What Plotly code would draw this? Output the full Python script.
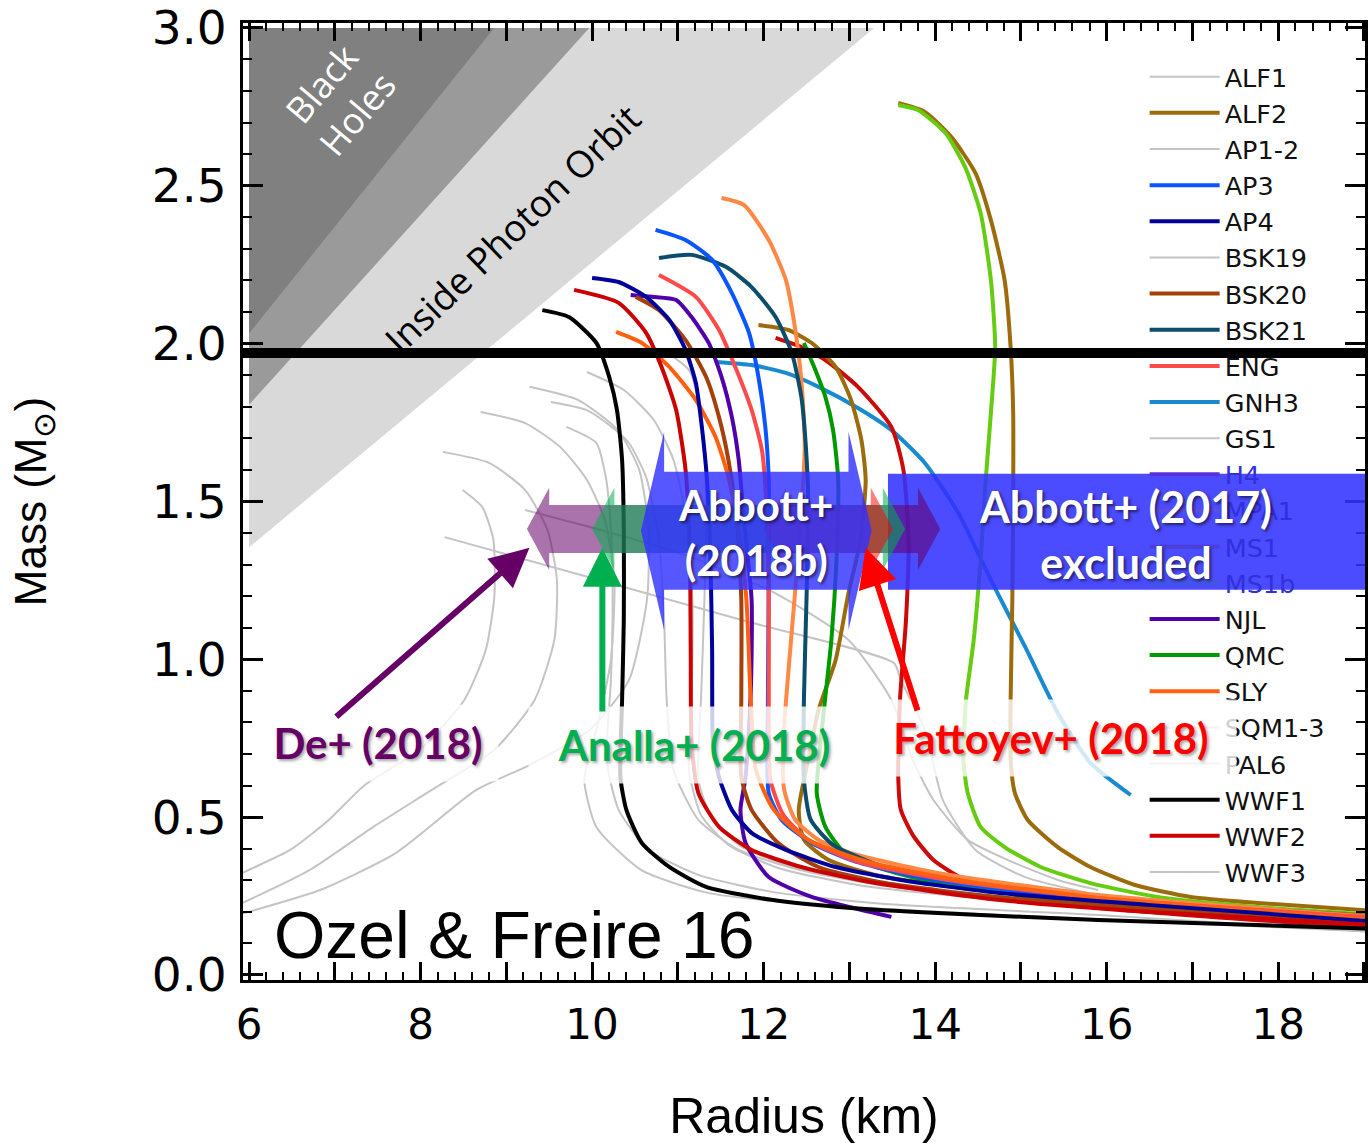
import plotly.graph_objects as go

# ---------------------------------------------------------------------------
# Neutron-star mass-radius relations (radius in km, mass in solar masses)
# ---------------------------------------------------------------------------
ALF1_R = [9.52, 9.93, 10.20, 10.43, 10.63, 10.78, 10.84, 10.87, 10.95, 11.24, 11.71, 12.41, 13.57, 15.90, 19.30]
ALF1_M = [1.815, 1.790, 1.742, 1.685, 1.577, 1.378, 1.124, 0.871, 0.649, 0.491, 0.396, 0.333, 0.276, 0.222, 0.149]

AP1_R = [9.70, 10.05, 10.16, 10.22, 10.24, 10.22, 10.17, 10.31, 10.66, 11.24, 12.17, 13.57, 15.90, 19.30]
AP1_M = [1.736, 1.685, 1.577, 1.410, 1.188, 0.934, 0.681, 0.523, 0.396, 0.317, 0.260, 0.222, 0.190, 0.133]
AP2_R = [10.87, 11.13, 11.24, 11.30, 11.33, 11.31, 11.27, 11.24, 11.38, 11.71, 12.29, 13.22, 14.73, 19.30]
AP2_M = [1.973, 1.916, 1.821, 1.695, 1.505, 1.188, 0.871, 0.618, 0.507, 0.412, 0.345, 0.295, 0.247, 0.155]

BSK19_R = [8.70, 9.22, 9.63, 9.94, 10.15, 10.26, 10.22, 10.08, 9.91, 10.05, 10.57, 11.35, 12.64, 14.73, 19.30]
BSK19_M = [1.783, 1.748, 1.672, 1.568, 1.441, 1.251, 0.998, 0.808, 0.618, 0.469, 0.333, 0.260, 0.222, 0.190, 0.135]

GS1_R = [9.22, 10.31, 11.24, 12.17, 12.99, 13.49, 13.74, 13.98, 14.38, 14.85, 15.43, 15.90]
GS1_M = [1.473, 1.394, 1.315, 1.204, 1.061, 0.871, 0.681, 0.554, 0.428, 0.364, 0.301, 0.269]

SQM1_R = [8.49, 8.72, 8.85, 8.86, 8.76, 8.51, 7.99, 7.35, 6.93, 6.48, 6.00, 5.90]
SQM1_M = [1.536, 1.482, 1.378, 1.197, 1.029, 0.871, 0.713, 0.602, 0.491, 0.396, 0.333, 0.320]
SQM2_R = [8.26, 8.80, 9.22, 9.48, 9.59, 9.56, 9.33, 8.86, 8.13, 7.45, 6.71, 6.00, 5.90]
SQM2_M = [1.657, 1.622, 1.536, 1.410, 1.251, 1.061, 0.871, 0.713, 0.586, 0.469, 0.333, 0.238, 0.226]
SQM3_R = [9.27, 9.84, 10.30, 10.55, 10.66, 10.64, 10.43, 9.97, 9.27, 8.65, 7.71, 6.83, 6.00, 5.90]
SQM3_M = [1.863, 1.821, 1.726, 1.600, 1.410, 1.188, 0.934, 0.776, 0.665, 0.586, 0.386, 0.269, 0.200, 0.192]

PAL6_R = [8.28, 10.08, 11.83, 13.52, 13.60, 13.88, 14.09, 14.47, 15.05, 15.78]
PAL6_M = [1.387, 1.251, 1.118, 0.988, 0.934, 0.776, 0.554, 0.396, 0.310, 0.260]

WWF3_R = [9.94, 10.37, 10.72, 10.95, 11.10, 11.17, 11.16, 11.13, 11.27, 11.59, 12.17, 13.10, 14.73, 19.30]
WWF3_M = [1.910, 1.853, 1.758, 1.631, 1.441, 1.188, 0.871, 0.649, 0.507, 0.412, 0.339, 0.285, 0.238, 0.148]

ALF2_R = [11.94, 12.29, 12.56, 12.84, 13.02, 13.14, 13.19, 13.13, 12.99, 12.84, 12.64, 12.52, 12.41, 12.47, 12.76, 13.34, 14.73, 19.30]
ALF2_M = [2.059, 2.043, 2.002, 1.926, 1.821, 1.695, 1.568, 1.378, 1.210, 0.998, 0.839, 0.681, 0.523, 0.428, 0.364, 0.314, 0.263, 0.185]

AP3_R = [10.74, 11.09, 11.40, 11.63, 11.83, 11.94, 12.02, 12.06, 12.06, 12.05, 12.06, 12.21, 12.56, 13.02, 13.80, 15.31, 17.06, 19.30]
AP3_M = [2.360, 2.328, 2.265, 2.160, 2.034, 1.894, 1.736, 1.568, 1.251, 0.871, 0.576, 0.491, 0.418, 0.364, 0.310, 0.253, 0.212, 0.155]

AP4_R = [10.00, 10.31, 10.63, 10.90, 11.09, 11.21, 11.28, 11.34, 11.38, 11.40, 11.41, 11.48, 11.63, 11.86, 12.26, 12.84, 13.60, 14.73, 16.48, 19.30]
AP4_M = [2.208, 2.195, 2.148, 2.075, 1.980, 1.875, 1.736, 1.568, 1.315, 1.029, 0.735, 0.627, 0.523, 0.450, 0.396, 0.342, 0.301, 0.260, 0.222, 0.165]

BSK20_R = [10.51, 10.78, 11.09, 11.33, 11.48, 11.59, 11.69, 11.74, 11.74, 11.74, 11.86, 12.17, 12.64, 13.42, 14.73, 17.06, 19.30]
BSK20_M = [2.148, 2.106, 2.011, 1.894, 1.767, 1.631, 1.441, 1.188, 0.871, 0.627, 0.523, 0.418, 0.342, 0.291, 0.247, 0.200, 0.153]

BSK21_R = [10.78, 11.16, 11.56, 11.86, 12.14, 12.33, 12.44, 12.49, 12.52, 12.50, 12.47, 12.47, 12.55, 12.81, 13.34, 14.15, 15.90, 19.30]
BSK21_M = [2.271, 2.281, 2.243, 2.179, 2.084, 1.970, 1.831, 1.685, 1.505, 1.188, 0.871, 0.618, 0.491, 0.412, 0.348, 0.301, 0.238, 0.160]

ENG_R = [10.78, 11.21, 11.48, 11.67, 11.86, 11.98, 12.03, 12.06, 12.06, 12.08, 12.23, 12.52, 13.10, 14.15, 15.90, 19.30]
ENG_M = [2.217, 2.148, 2.043, 1.926, 1.790, 1.663, 1.505, 1.188, 0.871, 0.618, 0.507, 0.428, 0.358, 0.301, 0.244, 0.178]

GNH3_R = [11.45, 11.86, 12.26, 12.64, 13.10, 13.49, 13.88, 14.27, 14.65, 15.05, 15.43, 15.81, 16.28]
GNH3_M = [1.942, 1.932, 1.907, 1.863, 1.796, 1.726, 1.622, 1.463, 1.251, 1.039, 0.830, 0.672, 0.570]

H4_R = [12.14, 12.44, 12.72, 13.10, 13.49, 13.63, 13.69, 13.66, 13.59, 13.57, 13.60, 13.74, 13.98, 14.35, 15.05, 16.21, 19.30]
H4_M = [2.018, 1.989, 1.948, 1.863, 1.736, 1.600, 1.378, 1.124, 0.871, 0.627, 0.523, 0.443, 0.364, 0.301, 0.247, 0.206, 0.145]

MPA1_R = [11.51, 11.77, 12.06, 12.26, 12.37, 12.44, 12.48, 12.41, 12.31, 12.23, 12.24, 12.37, 12.64, 13.02, 14.03, 15.90, 19.30]
MPA1_M = [2.461, 2.439, 2.328, 2.201, 2.043, 1.885, 1.672, 1.356, 1.029, 0.744, 0.586, 0.491, 0.428, 0.386, 0.323, 0.253, 0.180]

MS1_R = [13.57, 13.88, 14.19, 14.47, 14.65, 14.81, 14.88, 14.91, 14.91, 14.90, 14.88, 14.88, 14.93, 15.08, 15.43, 15.81, 16.33, 16.98, 17.76, 19.30]
MS1_M = [2.762, 2.734, 2.654, 2.540, 2.391, 2.201, 1.989, 1.780, 1.505, 1.188, 0.871, 0.681, 0.576, 0.491, 0.405, 0.342, 0.285, 0.247, 0.228, 0.200]

MS1B_R = [13.57, 13.80, 14.12, 14.35, 14.53, 14.65, 14.70, 14.65, 14.59, 14.53, 14.45, 14.36, 14.33, 14.38, 14.53, 14.81, 15.23, 15.81, 16.59, 17.76, 19.30]
MS1B_M = [2.756, 2.740, 2.667, 2.559, 2.414, 2.201, 1.989, 1.780, 1.568, 1.315, 1.061, 0.871, 0.681, 0.576, 0.469, 0.405, 0.342, 0.291, 0.247, 0.215, 0.187]

NJL_R = [10.45, 10.70, 10.98, 11.16, 11.36, 11.51, 11.63, 11.71, 11.77, 11.86, 11.85, 11.79, 11.73, 11.79, 12.06, 12.56, 13.05, 13.49]
NJL_M = [2.154, 2.148, 2.138, 2.084, 2.002, 1.894, 1.767, 1.631, 1.441, 1.188, 0.893, 0.627, 0.523, 0.418, 0.310, 0.247, 0.212, 0.184]

QMC_R = [12.47, 12.58, 12.72, 12.81, 12.87, 12.85, 12.79, 12.70, 12.62, 12.72, 12.95, 13.42, 14.03, 15.31, 17.06, 19.30]
QMC_M = [2.002, 1.932, 1.831, 1.726, 1.568, 1.315, 1.061, 0.830, 0.576, 0.469, 0.386, 0.333, 0.291, 0.244, 0.206, 0.165]

SLY_R = [10.28, 10.58, 10.90, 11.21, 11.44, 11.59, 11.71, 11.80, 11.85, 11.91, 12.12, 12.52, 13.22, 14.27, 15.90, 17.64, 19.30]
SLY_M = [2.037, 2.002, 1.926, 1.821, 1.704, 1.577, 1.410, 1.188, 0.871, 0.649, 0.523, 0.428, 0.358, 0.301, 0.244, 0.206, 0.170]

WWF1_R = [9.42, 9.73, 10.05, 10.20, 10.29, 10.35, 10.37, 10.37, 10.35, 10.33, 10.40, 10.58, 10.90, 11.33, 12.09, 13.02, 14.03, 15.90, 19.30]
WWF1_M = [2.106, 2.084, 2.002, 1.894, 1.790, 1.631, 1.410, 1.124, 0.871, 0.627, 0.523, 0.418, 0.342, 0.279, 0.238, 0.212, 0.196, 0.174, 0.145]

WWF2_R = [9.79, 10.31, 10.63, 10.81, 10.98, 11.09, 11.14, 11.15, 11.16, 11.24, 11.48, 11.86, 12.44, 13.22, 14.73, 16.48, 19.30]
WWF2_M = [2.170, 2.129, 2.034, 1.926, 1.790, 1.600, 1.346, 1.029, 0.744, 0.576, 0.469, 0.396, 0.342, 0.295, 0.238, 0.200, 0.155]

# Legend order of the equations of state
LEGEND_ORDER = ["ALF1", "ALF2", "AP1-2", "AP3", "AP4", "BSK19", "BSK20", "BSK21", "ENG",
                "GNH3", "GS1", "H4", "MPA1", "MS1", "MS1b", "NJL", "QMC", "SLY",
                "SQM1-3", "PAL6", "WWF1", "WWF2", "WWF3"]

# Maximum-mass pulsar constraint
PSR_MASS = 1.97

# GR limits (km per solar mass): Schwarzschild, Buchdahl, photon sphere
R_SCHW = 2.953
R_BUCHDAHL = 2.25 * 1.4766
R_PHOTON = 3.0 * 1.4766

# GW170817 radius constraints (km): name, lower, upper
CONSTRAINT_NAMES = ["De+ (2018)", "Analla+ (2018)", "Fattoyev+ (2018)", "Abbott+ (2018b)"]
CONSTRAINT_RMIN = [9.24, 10.00, 12.00, 10.57]
CONSTRAINT_RMAX = [14.06, 13.65, 13.51, 13.26]
ABBOTT17_RMIN = 13.45

# ---------------------------------------------------------------------------
GRAY = "#c4c4c4"

gray_curves = [
    ("ALF1", ALF1_R, ALF1_M, True),
    ("AP1-2", AP1_R, AP1_M, True),
    ("AP1-2", AP2_R, AP2_M, False),
    ("BSK19", BSK19_R, BSK19_M, True),
    ("GS1", GS1_R, GS1_M, True),
    ("SQM1-3", SQM1_R, SQM1_M, True),
    ("SQM1-3", SQM2_R, SQM2_M, False),
    ("SQM1-3", SQM3_R, SQM3_M, False),
    ("PAL6", PAL6_R, PAL6_M, True),
    ("WWF3", WWF3_R, WWF3_M, True),
]

colored_curves = [
    ("GNH3", GNH3_R, GNH3_M, "#1a8ad0"),
    ("MS1", MS1_R, MS1_M, "#9c6b0c"),
    ("MS1b", MS1B_R, MS1B_M, "#66cc11"),
    ("H4", H4_R, H4_M, "#cc0a0a"),
    ("ALF2", ALF2_R, ALF2_M, "#9c6b0c"),
    ("QMC", QMC_R, QMC_M, "#009a00"),
    ("MPA1", MPA1_R, MPA1_M, "#ff8844"),
    ("BSK21", BSK21_R, BSK21_M, "#0b4d6b"),
    ("AP3", AP3_R, AP3_M, "#0a55ff"),
    ("ENG", ENG_R, ENG_M, "#ff4a4a"),
    ("NJL", NJL_R, NJL_M, "#5000a8"),
    ("BSK20", BSK20_R, BSK20_M, "#a3400c"),
    ("SLY", SLY_R, SLY_M, "#ff6010"),
    ("AP4", AP4_R, AP4_M, "#00009a"),
    ("WWF2", WWF2_R, WWF2_M, "#cc0000"),
    ("WWF1", WWF1_R, WWF1_M, "#000000"),
]

# legend keys lying under the shaded exclusion box are drawn muted
UNDER_BOX = {"H4": "#5a32dc", "MPA1": "#5e4ce6", "MS1": "#4a40d6", "MS1b": "#3f58e0"}
UNDER_BOX_TEXT = "#3030dc"

fig = go.Figure()

for name, R, M, show in gray_curves:
    fig.add_trace(go.Scatter(
        x=R, y=M, mode="lines", name=name, legendgroup=name, showlegend=show,
        legendrank=LEGEND_ORDER.index(name) + 1,
        line=dict(color=GRAY, width=2, shape="spline", smoothing=0.6),
        hoverinfo="skip"))

for name, R, M, color in colored_curves:
    covered = name in UNDER_BOX
    fig.add_trace(go.Scatter(
        x=R, y=M, mode="lines", name=name, legendgroup=name,
        showlegend=not covered, legendrank=LEGEND_ORDER.index(name) + 1,
        line=dict(color=color, width=4, shape="spline", smoothing=0.6),
        hoverinfo="skip"))
    if covered:
        fig.add_trace(go.Scatter(
            x=[None], y=[None], mode="lines", legendgroup=name,
            name='<span style="color:%s">%s</span>' % (UNDER_BOX_TEXT, name),
            legendrank=LEGEND_ORDER.index(name) + 1,
            line=dict(color=UNDER_BOX[name], width=4), hoverinfo="skip"))

# ---------------------------------------------------------------------------
# Shapes: GR-forbidden regions, pulsar mass line, radius constraints
# ---------------------------------------------------------------------------
R0, MTOP = 6.0, 3.0
shapes = []
for k, col in [(R_PHOTON, "#d9d9d9"), (R_BUCHDAHL, "#9a9a9a"), (R_SCHW, "#808080")]:
    shapes.append(dict(
        type="path", xref="x", yref="y", layer="below", fillcolor=col,
        line=dict(width=0),
        path="M %.4f,%.4f L %.4f,%.4f L %.4f,%.4f Z" % (R0, R0 / k, k * MTOP, MTOP, R0, MTOP)))

shapes.append(dict(type="line", xref="paper", yref="y", x0=0, x1=1,
                   y0=PSR_MASS, y1=PSR_MASS, layer="above",
                   line=dict(color="black", width=10)))

# Abbott+ (2017) excluded region
shapes.append(dict(type="rect", xref="x", yref="y", layer="above",
                   x0=ABBOTT17_RMIN, x1=19.5, y0=1.220, y1=1.588,
                   fillcolor="rgba(50,50,255,0.88)", line=dict(width=0)))


def band_path(lo, hi, yc, half_band, half_head, head_len):
    pts = [(lo, yc), (lo + head_len, yc + half_head), (lo + head_len, yc + half_band),
           (hi - head_len, yc + half_band), (hi - head_len, yc + half_head), (hi, yc),
           (hi - head_len, yc - half_head), (hi - head_len, yc - half_band),
           (lo + head_len, yc - half_band), (lo + head_len, yc - half_head)]
    return "M " + " L ".join("%.4f,%.4f" % p for p in pts) + " Z"


band_colors = ["rgba(102,0,102,0.55)", "rgba(0,176,80,0.55)",
               "rgba(255,0,0,0.5)", "rgba(50,50,255,0.82)"]
band_geom = [(1.413, 0.076, 0.130, 0.26)] * 3 + [(1.407, 0.187, 0.314, 0.27)]
for lo, hi, col, (yc, hb, hh, hl) in zip(CONSTRAINT_RMIN, CONSTRAINT_RMAX, band_colors, band_geom):
    shapes.append(dict(type="path", xref="x", yref="y", layer="above",
                       fillcolor=col, line=dict(width=0),
                       path=band_path(lo, hi, yc, hb, hh, hl)))

# ---------------------------------------------------------------------------
# Annotations
# ---------------------------------------------------------------------------
LABEL_FONT = "Lato"
WHITE_SHADOW = "2px 2px 3px rgba(0,0,0,0.55)"
TEXT_SHADOW = "2px 2px 3px rgba(0,0,0,0.35)"

annotations = [
    dict(x=7.05, y=2.775, text="Black<br>Holes", textangle=-50, showarrow=False,
         font=dict(family="Open Sans", size=36, color="white")),
    dict(x=9.06, y=2.366, text="Inside Photon Orbit", textangle=-44, showarrow=False,
         font=dict(family="Open Sans", size=37, color="black")),
    dict(x=6.27, y=0.127, text="Ozel &amp; Freire 16", xanchor="left", showarrow=False,
         font=dict(family="Liberation Sans", size=66, color="black")),
    dict(x=11.91, y=1.400, text="Abbott+<br>(2018b)", showarrow=False,
         font=dict(family=LABEL_FONT, size=42, color="white", weight="bold", shadow=WHITE_SHADOW)),
    dict(x=16.22, y=1.395, text="Abbott+ (2017)<br>excluded", showarrow=False,
         font=dict(family=LABEL_FONT, size=43, color="white", weight="bold", shadow=WHITE_SHADOW)),
]

label_specs = [
    ("De+ (2018)", "#660066", 7.50, 0.735, 240),
    ("Analla+ (2018)", "#00b050", 11.19, 0.729, 330),
    ("Fattoyev+ (2018)", "#ff0000", 15.35, 0.751, 370),
]
for text, col, x, y, w in label_specs:
    annotations.append(dict(
        x=x, y=y, text=text, showarrow=False, width=w, height=76,
        bgcolor="rgba(255,255,255,0.8)", borderpad=0,
        font=dict(family=LABEL_FONT, size=42, color=col, weight="bold", shadow=TEXT_SHADOW)))

arrow_specs = [
    ("#660066", 9.27, 1.353, 7.00, 0.814),
    ("#00b050", 10.12, 1.353, 10.12, 0.830),
    ("#ff0000", 13.19, 1.353, 13.80, 0.833),
]
for col, x, y, ax, ay in arrow_specs:
    annotations.append(dict(
        x=x, y=y, ax=ax, ay=ay, xref="x", yref="y", axref="x", ayref="y",
        text="", showarrow=True, arrowhead=2, arrowsize=1.3, arrowwidth=6,
        arrowcolor=col, standoff=0, startstandoff=0))

# ---------------------------------------------------------------------------
X_TICKS = list(range(6, 20))
X_TICKTEXT = [str(v) if v % 2 == 0 and v < 19 else "" for v in X_TICKS]
Y_TICKS = [0.0, 0.5, 1.0, 1.5, 2.0, 2.5, 3.0]
Y_TICKTEXT = ["0.0", "0.5", "1.0", "1.5", "2.0", "2.5", "3.0"]

fig.update_layout(
    width=1368, height=1144,
    margin=dict(l=243, r=0, t=23, b=164),
    paper_bgcolor="white", plot_bgcolor="white",
    shapes=shapes, annotations=annotations,
    legend=dict(x=0.8036, y=0.968, xanchor="left", yanchor="top",
                bgcolor="rgba(0,0,0,0)", borderwidth=0, traceorder="normal",
                tracegroupgap=0, itemclick=False, itemwidth=70,
                font=dict(family="DejaVu Sans", size=25.5, color="#111111")),
    xaxis=dict(range=[5.93, 19.012], showgrid=False, zeroline=False,
               tickvals=X_TICKS, ticktext=X_TICKTEXT, ticks="inside",
               ticklen=18, tickwidth=2.5, tickcolor="black",
               showline=True, linewidth=3, linecolor="black", mirror="ticks",
               minor=dict(dtick=0.2, ticks="inside", ticklen=8, tickwidth=2, tickcolor="black"),
               tickfont=dict(family="DejaVu Sans", size=42, color="black"),
               ticklabelstandoff=6,
               title=dict(text="Radius (km)", standoff=53,
                          font=dict(family="Liberation Sans", size=50, color="black"))),
    yaxis=dict(range=[-0.016, 3.0155], showgrid=False, zeroline=False,
               tickvals=Y_TICKS, ticktext=Y_TICKTEXT, ticks="inside",
               ticklen=20, tickwidth=2.5, tickcolor="black",
               showline=True, linewidth=3, linecolor="black", mirror="ticks",
               minor=dict(dtick=0.1, ticks="inside", ticklen=9, tickwidth=2, tickcolor="black"),
               tickfont=dict(family="DejaVu Sans", size=47, color="black"),
               ticklabelstandoff=4,
               title=dict(text="Mass (M<sub>\u2299</sub>)", standoff=92,
                          font=dict(family="Liberation Sans", size=44, color="black"))),
)

fig.write_html("out.html")
